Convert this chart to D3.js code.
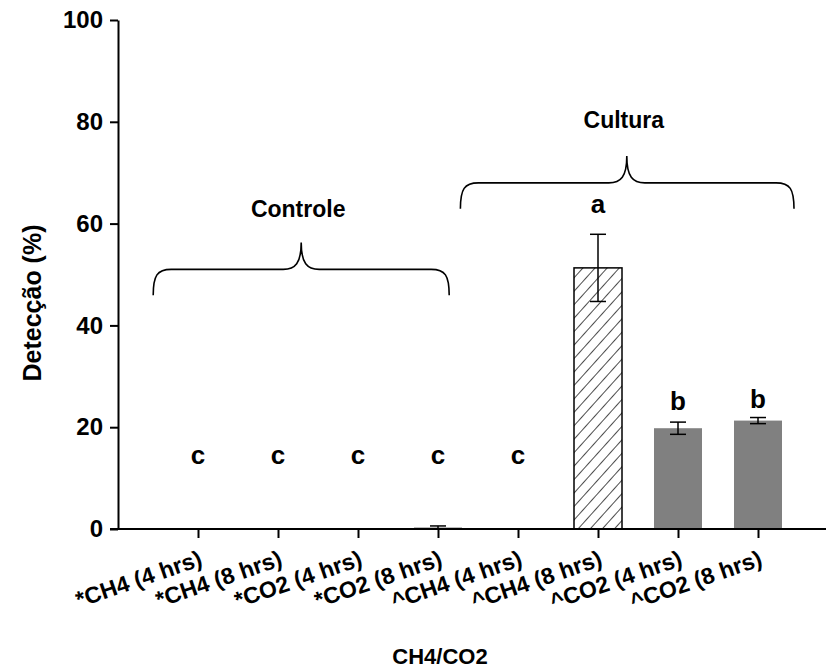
<!DOCTYPE html>
<html>
<head>
<meta charset="utf-8">
<script src="https://cdn.jsdelivr.net/npm/d3@7"></script>
<style>
  body { margin: 0; background: #fff; }
  text { font-family: "Liberation Sans", Arial, sans-serif; font-weight: bold; fill: #000; }
</style>
</head>
<body>
<div id="chart"></div>
<script>
/* bar chart: detection (%) per treatment */
var categories = ["*CH4 (4 hrs)", "*CH4 (8 hrs)", "*CO2 (4 hrs)", "*CO2 (8 hrs)",
    "^CH4 (4 hrs)", "^CH4 (8 hrs)", "^CO2 (4 hrs)", "^CO2 (8 hrs)"];
var means = [0, 0, 0, 0.3, 0, 51.3, 19.8, 21.3];
var errors = [0, 0, 0, 0.3, null, 6.6, 1.2, 0.6];
var hatched = [false, false, false, false, false, true, false, false];
var letters = ["c", "c", "c", "c", "c", "a", "b", "b"];
var letterY = [12.8, 12.8, 12.8, 12.8, 12.8, 62.1, 23.3, 23.8];
var yTicks = [0, 20, 40, 60, 80, 100];

// group braces: [start, peak, end] in category index units, [bottom, line, top] in %
var groups = [
    {name: "Controle", x: [-0.56, 1.29, 3.14], y: [45.9, 51, 56.3], labelY: 61.2},
    {name: "Cultura", x: [3.28, 5.36, 7.45], y: [62.9, 68, 73.3], labelY: 78.7}
];

var width = 826, height = 670;
var margin = {top: 20, right: 0, bottom: 141, left: 118};

var svg = d3.select("#chart").append("svg")
    .attr("width", width)
    .attr("height", height);

var x = d3.scalePoint()
    .domain(categories)
    .range([margin.left, margin.left + 720])
    .padding(1);

var xi = d3.scaleLinear()
    .domain([0, 1])
    .range([x(categories[0]), x(categories[1])]);

var y = d3.scaleLinear()
    .domain([0, 100])
    .range([height - margin.bottom, margin.top]);

var barW = x.step() * 0.6;

var defs = svg.append("defs");
defs.append("pattern")
    .attr("id", "hatch")
    .attr("patternUnits", "userSpaceOnUse")
    .attr("width", 9)
    .attr("height", 9)
    .attr("patternTransform", "rotate(42)")
    .append("line")
    .attr("x1", 0).attr("y1", 0)
    .attr("x2", 0).attr("y2", 9)
    .attr("stroke", "#000")
    .attr("stroke-width", 1.4);

// bars
svg.selectAll(".bar")
    .data(categories)
    .enter().append("rect")
    .attr("class", "bar")
    .attr("x", function (d) { return x(d) - barW / 2; })
    .attr("y", function (d, i) { return y(means[i]); })
    .attr("width", barW)
    .attr("height", function (d, i) { return y(0) - y(means[i]); })
    .attr("fill", function (d, i) { return hatched[i] ? "url(#hatch)" : "#808080"; })
    .attr("stroke", function (d, i) { return hatched[i] ? "#000" : "none"; })
    .attr("stroke-width", 1.5);

// error bars
var err = svg.selectAll(".err")
    .data(categories.filter(function (d, i) { return errors[i] !== null; }))
    .enter().append("g")
    .attr("class", "err")
    .attr("stroke", "#000")
    .attr("stroke-width", 1.5);

function ci(d) { return categories.indexOf(d); }

err.append("line")
    .attr("x1", function (d) { return x(d); })
    .attr("x2", function (d) { return x(d); })
    .attr("y1", function (d) { return y(means[ci(d)] - errors[ci(d)]); })
    .attr("y2", function (d) { return y(means[ci(d)] + errors[ci(d)]); });

[-1, 1].forEach(function (s) {
    err.append("line")
        .attr("x1", function (d) { return x(d) - 8; })
        .attr("x2", function (d) { return x(d) + 8; })
        .attr("y1", function (d) { return y(means[ci(d)] + s * errors[ci(d)]); })
        .attr("y2", function (d) { return y(means[ci(d)] + s * errors[ci(d)]); });
});

// significance letters
svg.selectAll(".letter")
    .data(categories)
    .enter().append("text")
    .attr("class", "letter")
    .attr("x", function (d) { return x(d); })
    .attr("y", function (d, i) { return y(letterY[i]); })
    .attr("text-anchor", "middle")
    .style("font-size", "26px")
    .text(function (d, i) { return letters[i]; });

// braces
groups.forEach(function (g) {
    var x0 = xi(g.x[0]), xm = xi(g.x[1]), x1 = xi(g.x[2]);
    var yb = y(g.y[0]), yl = y(g.y[1]), yt = y(g.y[2]);
    var r = 18;
    var p = d3.path();
    p.moveTo(x0, yb);
    p.bezierCurveTo(x0, yl + 6, x0 + 4, yl, x0 + r, yl);
    p.lineTo(xm - r, yl);
    p.bezierCurveTo(xm - 6, yl, xm, yl - 6, xm, yt);
    p.bezierCurveTo(xm, yl - 6, xm + 6, yl, xm + r, yl);
    p.lineTo(x1 - r, yl);
    p.bezierCurveTo(x1 - 4, yl, x1, yl + 6, x1, yb);
    svg.append("path")
        .attr("d", p.toString())
        .attr("fill", "none")
        .attr("stroke", "#000")
        .attr("stroke-width", 1.6);
    svg.append("text")
        .attr("x", xm - 3)
        .attr("y", y(g.labelY))
        .attr("text-anchor", "middle")
        .style("font-size", "23px")
        .text(g.name);
});

// axes
var xAxis = svg.append("g")
    .attr("transform", "translate(0," + y(0) + ")")
    .call(d3.axisBottom(x).tickSize(9).tickFormat(""));
xAxis.select(".domain").attr("d", "M" + (margin.left - 8) + ",0H" + (margin.left + 720));
xAxis.selectAll("line, path").attr("stroke", "#000").attr("stroke-width", 2);

xAxis.selectAll(".tick")
    .append("text")
    .attr("transform", "translate(5,36) rotate(-19)")
    .attr("text-anchor", "end")
    .style("font-size", "23px")
    .text(function (d) { return d; });

var yAxis = svg.append("g")
    .attr("transform", "translate(" + margin.left + ",0)")
    .call(d3.axisLeft(y).tickValues(yTicks).tickSize(8).tickPadding(7).tickSizeOuter(0));
yAxis.selectAll("line, path").attr("stroke", "#000").attr("stroke-width", 2);
yAxis.selectAll(".tick text")
    .style("font-size", "24px")
    .style("font-family", "Liberation Sans, Arial, sans-serif")
    .style("font-weight", "bold")
    .attr("fill", "#000");

// titles
svg.append("text")
    .attr("transform", "translate(41," + 303 + ") rotate(-90)")
    .attr("text-anchor", "middle")
    .style("font-size", "25px")
    .text("Detecção (%)");

svg.append("text")
    .attr("x", 440)
    .attr("y", 664)
    .attr("text-anchor", "middle")
    .style("font-size", "22px")
    .text("CH4/CO2");
</script>
</body>
</html>
